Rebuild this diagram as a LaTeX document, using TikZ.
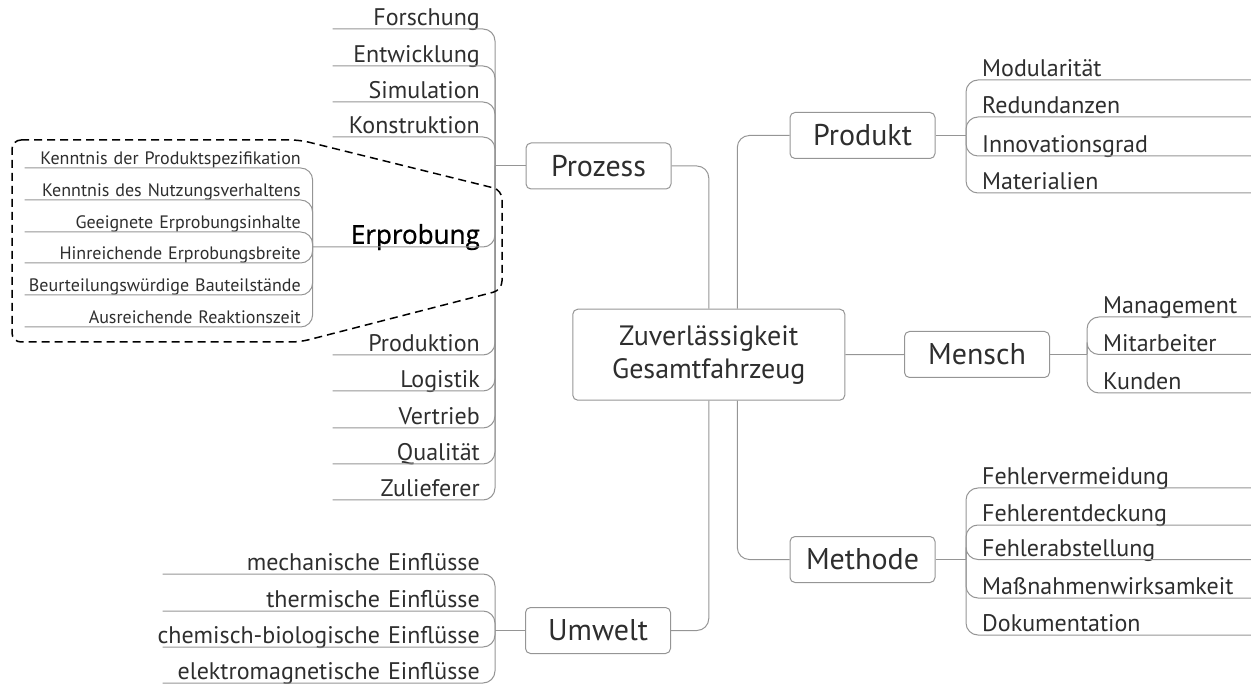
\documentclass[tikz,border=0pt]{standalone}
\usepackage{fontspec}
\setmainfont{PT Sans}
\newfontfamily\erpfont[FakeBold=1]{Open Sans}
\usepackage{xcolor}
\usepackage{tikz}
\usetikzlibrary{positioning,calc}
\definecolor{linegray}{HTML}{959595}
\definecolor{txtgray}{HTML}{2E2E2E}

\begin{document}
\begin{tikzpicture}[x=1pt,y=-1pt]
      \tikzstyle{conn} = [draw=linegray, line width=1pt, rounded corners=12pt]
      \tikzstyle{box} = [draw=linegray, line width=1pt, rounded corners=5pt,
      minimum width=145pt, minimum height=46pt, text=txtgray,
      font=\fontsize{30}{33}\selectfont]
      \tikzstyle{leafl} = [anchor=south east, align=right, inner xsep=0pt,
      inner ysep=3pt, text depth=0pt, text=txtgray, font=\fontsize{24}{27}\selectfont]
      \tikzstyle{leafr} = [leafl, anchor=south west, align=left]
      \tikzstyle{leafs} = [leafl, text width=290pt, font=\fontsize{18}{21}\selectfont]
      \tikzstyle{hull} = [draw=black, line width=1.5pt, dash pattern=on 8pt off 5pt,
      rounded corners=9pt]
      \useasboundingbox (0,0) rectangle (1251,684);
      % CENTRE
      \node[box, minimum width=272pt, minimum height=91pt, align=center,
      font=\fontsize{28}{33}\selectfont] (ctr) at (708.8,354.7)
      {Zuverlässigkeit\\Gesamtfahrzeug};
      \node[box] (pz) at (598.5,166) {Prozess};
      \node[box] (pd) at (862.5,135.5) {Produkt};
      \node[box] (ms) at (977,354.5) {Mensch};
      \node[box] (md) at (862.5,559.5) {Methode};
      \node[box] (uw) at (598,630.5) {Umwelt};
      \coordinate (pzt) at (495,166); \coordinate (pdt) at (966,135.5);
      \coordinate (mst) at (1087,354.5); \coordinate (mdt) at (966,559.5);
      \coordinate (uwt) at (495,630.5);
      \draw[conn] (pz.east) -| (ctr.north);
      \draw[conn] (pd.west) -| ([xshift=28.5pt]ctr.north);
      \draw[conn] (ctr.east) -- (ms.west);
      \draw[conn] (md.west) -| ([xshift=28.5pt]ctr.south);
      \draw[conn] (uw.east) -| (ctr.south);
      % PROZESS
      \node[leafl, text width=147pt] (p1) at (480,29) {Forschung};
      \node[leafl, text width=147pt] (p2) at (480,66) {Entwicklung};
      \node[leafl, text width=147pt] (p3) at (480,102) {Simulation};
      \node[leafl, text width=147pt] (p4) at (480,137) {Konstruktion};
      \node[leafl, text width=167pt, font=\fontsize{26}{28}\erpfont,
      text=black] (ep) at (480,247) {Erprobung};
      \node[leafl, text width=147pt] (p6) at (480,355) {Produktion};
      \node[leafl, text width=147pt] (p7) at (480,391) {Logistik};
      \node[leafl, text width=147pt] (p8) at (480,428) {Vertrieb};
      \node[leafl, text width=147pt] (p9) at (480,464) {Qualität};
      \node[leafl, text width=147pt] (p10) at (480,500) {Zulieferer};
      \draw[conn] (pz.west) -- (pzt);
      \foreach \n in {p1,p2,p3,p4,ep,p6,p7,p8,p9,p10}
        \draw[conn] (\n.south west) -| (pzt);
      % ERPROBUNG
      \node[leafs] (e1) at (301,168) {Kenntnis der Produktspezifikation};
      \node[leafs] (e2) at (301,200) {Kenntnis des Nutzungsverhaltens};
      \node[leafs] (e3) at (301,232) {Geeignete Erprobungsinhalte};
      \node[leafs] (e4) at (301,263) {Hinreichende Erprobungsbreite};
      \node[leafs] (e5) at (301,295) {Beurteilungswürdige Bauteilstände};
      \node[leafs] (e6) at (301,327) {Ausreichende Reaktionszeit};
      \foreach \n in {e1,e2,e3,e4,e5,e6}
        \draw[conn] ([xshift=14pt]\n.south west) -| (ep.south west);
      \draw[hull] (12,140) -- (300,140) -- (502,190) -- (502,290) -- (300,342)
      -- (12,342) -- cycle;
      % UMWELT
      \node[leafl, text width=340pt] (u1) at (480,574) {mechanische Einflüsse};
      \node[leafl, text width=340pt] (u2) at (480,611) {thermische Einflüsse};
      \node[leafl, text width=340pt] (u3) at (480,647) {chemisch-biologische Einflüsse};
      \node[leafl, text width=340pt] (u4) at (480,683) {elektromagnetische Einflüsse};
      \draw[conn] (uw.west) -- (uwt);
      \foreach \n in {u1,u2,u3,u4}
        \draw[conn] ([xshift=23pt]\n.south west) -| (uwt);
      % PRODUKT
      \node[leafr, text width=269pt] (r1) at (982,80) {Modularität};
      \node[leafr, text width=269pt] (r2) at (982,117) {Redundanzen};
      \node[leafr, text width=269pt] (r3) at (982,156) {Innovationsgrad};
      \node[leafr, text width=269pt] (r4) at (982,193) {Materialien};
      \draw[conn] (pd.east) -- (pdt);
      \foreach \n in {r1,r2,r3,r4}
        \draw[conn] (pdt) |- (\n.south east);
      % MENSCH
      \node[leafr, text width=148pt] (m1) at (1103,317) {Management};
      \node[leafr, text width=148pt] (m2) at (1103,354.5) {Mitarbeiter};
      \node[leafr, text width=148pt] (m3) at (1103,393) {Kunden};
      \draw[conn] (ms.east) -- (mst);
      \foreach \n in {m1,m2,m3}
        \draw[conn] (mst) |- (\n.south east);
      % METHODE
      \node[leafr, text width=269pt] (f1) at (982,488) {Fehlervermeidung};
      \node[leafr, text width=269pt] (f2) at (982,525) {Fehlerentdeckung};
      \node[leafr, text width=269pt] (f3) at (982,559.5) {Fehlerabstellung};
      \node[leafr, text width=269pt] (f4) at (982,598) {Maßnahmenwirksamkeit};
      \node[leafr, text width=269pt] (f5) at (982,635) {Dokumentation};
      \draw[conn] (md.east) -- (mdt);
      \foreach \n in {f1,f2,f3,f4,f5}
        \draw[conn] (mdt) |- (\n.south east);
    \end{tikzpicture}
\end{document}
